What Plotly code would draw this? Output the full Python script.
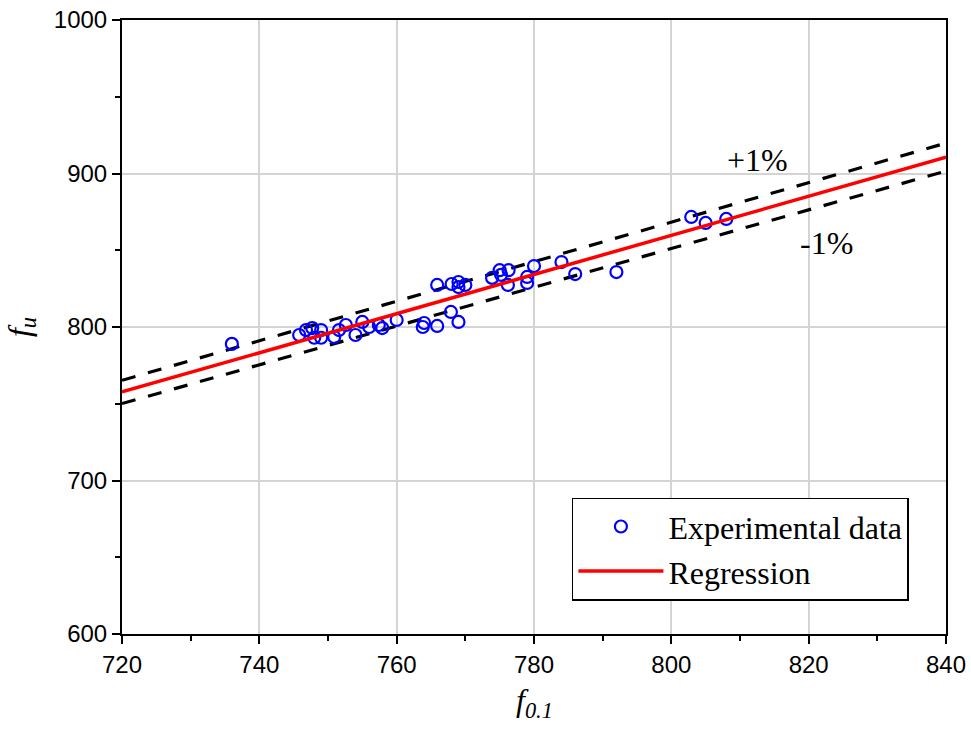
import plotly.graph_objects as go

# Measured 0.1%-proof strength vs. ultimate strength
f01 = [736, 745.8, 746.8, 747.7, 748, 749, 749, 750.9, 751.6, 752.6,
       754, 755, 756, 757.4, 757.9, 760, 763.8, 764, 765.9, 765.9,
       767.9, 768, 769, 769, 769, 770, 773.9, 775, 775.2, 776.2,
       776.3, 779, 779, 780, 784, 786, 792, 802.9, 805, 808]
fu = [789, 794.8, 798, 799.3, 793, 798, 793, 793.5, 798, 801.3,
      794.8, 803.3, 800, 801.3, 799.3, 804.6, 800, 802.6, 800.7, 827.4,
      809.8, 828, 803.3, 829.3, 826, 827.4, 832, 837, 834, 827.4,
      837, 828.7, 832.6, 839.7, 842.3, 834.5, 835.8, 871.7, 867.8, 870.4]

# Linear regression fu = slope * f01 + intercept, with +/-1 % bands
slope = 1.275
intercept = -160.3
band = 0.01
x_line = [720, 840]
y_reg = [slope * x + intercept for x in x_line]
y_up = [y * (1 + band) for y in y_reg]
y_lo = [y * (1 - band) for y in y_reg]

x_ticks = [720, 740, 760, 780, 800, 820, 840]
y_ticks = [600, 700, 800, 900, 1000]

serif = "Liberation Serif, Times New Roman, serif"
sans = "Liberation Sans, Arial, sans-serif"

fig = go.Figure()
fig.add_trace(go.Scatter(x=x_line, y=y_up, mode="lines", showlegend=False,
                         line=dict(color="black", width=3.2, dash="14px,13px")))
fig.add_trace(go.Scatter(x=x_line, y=y_lo, mode="lines", showlegend=False,
                         line=dict(color="black", width=3.2, dash="14px,13px")))
fig.add_trace(go.Scatter(x=f01, y=fu, mode="markers", name="Experimental data",
                         marker=dict(symbol="circle-open", size=12, color="blue",
                                     line=dict(width=2.2, color="blue"))))
fig.add_trace(go.Scatter(x=x_line, y=y_reg, mode="lines", name="Regression",
                         line=dict(color="red", width=3.5)))

fig.add_annotation(x=812.5, y=909, text="+1%", showarrow=False,
                   font=dict(family=serif, size=32, color="black"))
fig.add_annotation(x=822.6, y=855, text="-1%", showarrow=False,
                   font=dict(family=serif, size=32, color="black"))

# x-axis title placed below the tick labels
fig.add_annotation(x=0.5, y=-0.112, xref="paper", yref="paper",
                   text="<i>f</i><sub><i>0.1</i></sub>", showarrow=False,
                   xanchor="center", yanchor="middle",
                   font=dict(family=serif, size=32, color="black"))

axis_common = dict(
    showline=True, linecolor="black", linewidth=2, mirror=True,
    ticks="outside", ticklen=8, tickwidth=2, tickcolor="black",
    showgrid=True, gridcolor="#d4d4d4", gridwidth=1.5, zeroline=False,
    automargin=False,
    tickfont=dict(family=sans, size=24, color="black"),
)

fig.update_xaxes(range=[720, 840], tickvals=x_ticks,
                 minor=dict(dtick=10, ticks="outside", ticklen=5, tickwidth=2,
                            tickcolor="black", showgrid=False),
                 **axis_common)
fig.update_yaxes(range=[600, 1000], tickvals=y_ticks,
                 minor=dict(dtick=50, ticks="outside", ticklen=5, tickwidth=2,
                            tickcolor="black", showgrid=False),
                 title=dict(text="<i>f</i><sub><i>u</i></sub>", standoff=14,
                            font=dict(family=serif, size=32, color="black")),
                 **axis_common)

fig.update_layout(
    width=971, height=729,
    margin=dict(l=122, r=25, t=20, b=95, autoexpand=False),
    plot_bgcolor="white", paper_bgcolor="white",
    legend=dict(x=0.546, y=0.222, xanchor="left", yanchor="top",
                bgcolor="white", bordercolor="black", borderwidth=1.5,
                font=dict(family=serif, size=32, color="black"),
                itemwidth=85, tracegroupgap=0),
)

fig.write_html("out.html")
